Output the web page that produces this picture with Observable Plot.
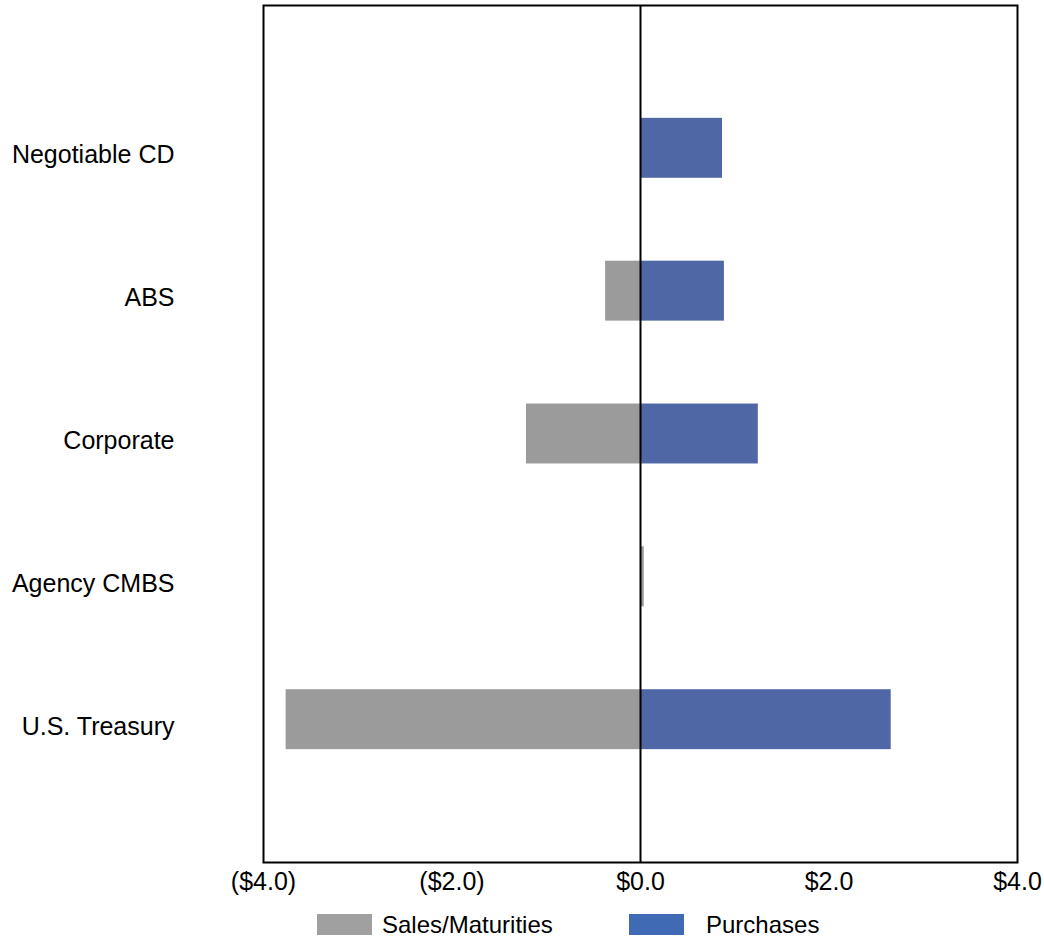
<!DOCTYPE html>
<html>
<head>
<meta charset="utf-8">
<script src="https://cdn.jsdelivr.net/npm/d3@7"></script>
<script src="https://cdn.jsdelivr.net/npm/@observablehq/plot@0.6"></script>
<style>
  html, body { margin: 0; padding: 0; background: #fff; }
  #wrap { position: relative; width: 1044px; font-family: "Liberation Sans", Arial, sans-serif; }
  #legend { position: relative; height: 37px; }
  .sw { position: absolute; top: 12px; width: 55px; height: 21px; }
  .lt { position: absolute; top: 8px; font-size: 24px; color: #000; line-height: 30px; }
</style>
</head>
<body>
<div id="wrap">
  <div id="chart"></div>
  <div id="legend">
    <div class="sw" style="left:317px;background:#a0a0a0"></div>
    <div class="lt" style="left:382px">Sales/Maturities</div>
    <div class="sw" style="left:629px;background:#416ab4"></div>
    <div class="lt" style="left:706px">Purchases</div>
  </div>
</div>
<script>
const categories = ["Negotiable CD", "ABS", "Corporate", "Agency CMBS", "U.S. Treasury"];
const sales = [0, -0.37, -1.21, 0.04, -3.76];
const purchases = [0.87, 0.89, 1.25, 0, 2.66];
const xTicks = [-4, -2, 0, 2, 4];

const data = [];
categories.forEach((c, i) => {
  data.push({category: c, series: "Sales/Maturities", value: sales[i]});
  data.push({category: c, series: "Purchases", value: purchases[i]});
});

const fmt = d => d < 0 ? `($${(-d).toFixed(1)})` : `$${d.toFixed(1)}`;

const chart = Plot.plot({
  width: 1044,
  height: 902,
  marginTop: 5,
  marginBottom: 40,
  marginLeft: 263,
  marginRight: 27,
  style: {fontFamily: '"Liberation Sans", Arial, sans-serif', fontSize: "25px", color: "#000", background: "#fff"},
  x: {domain: [-4, 4], ticks: xTicks, tickFormat: fmt, tickSize: 0, tickPadding: 10, label: null},
  y: {domain: categories, paddingInner: 0.5804, paddingOuter: 0.79, round: false, axis: null},
  color: {domain: ["Sales/Maturities", "Purchases"], range: ["#9b9b9b", "#4f67a5"]},
  marks: [
    Plot.barX(data, {x: "value", y: "category", fill: "series"}),
    Plot.axisY({tickSize: 0, tickPadding: 89, label: null, dy: 7, fontSize: 25}),
    Plot.ruleX([0], {stroke: "#000", strokeWidth: 2}),
    Plot.frame({stroke: "#000", strokeWidth: 2})
  ]
});
document.getElementById("chart").appendChild(chart);
</script>
</body>
</html>
